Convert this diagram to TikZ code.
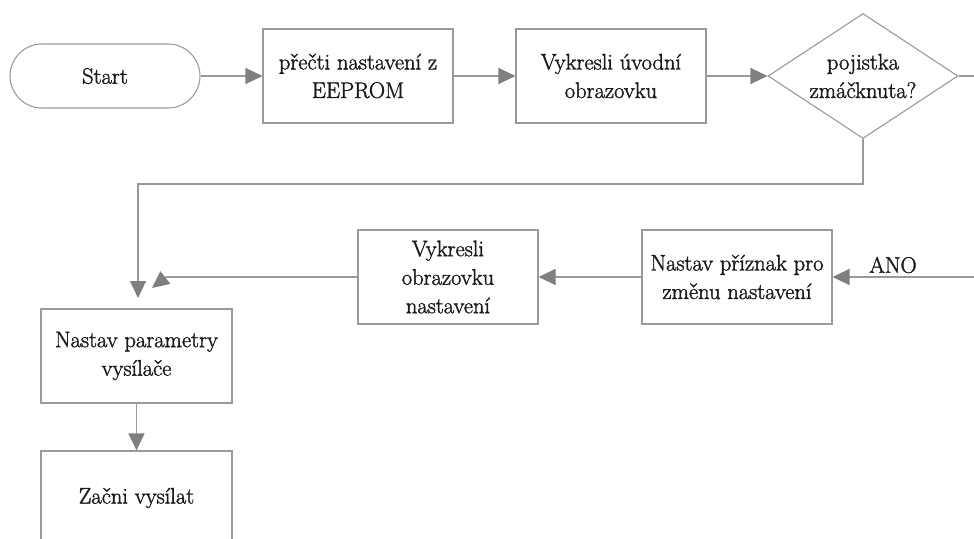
\documentclass[tikz,border=0pt]{standalone}
\usepackage{fontspec}
\setmainfont{lmroman17-regular}[Extension=.otf, FakeBold=1.6]
\usetikzlibrary{arrows.meta,shapes.geometric}
\definecolor{linegray}{HTML}{9A9A9A}
\definecolor{tipgray}{HTML}{7F7F7F}
\definecolor{inkgray}{HTML}{1A1A1A}
\tikzset{
  chartfont/.style={font=\rmfamily\fontsize{22.5}{28.5}\selectfont},
  base/.style={draw=linegray, line width=1.1pt, text=inkgray, chartfont, align=center, inner sep=0pt},
  procbox/.style={base, rectangle, minimum height=94pt},
  termbox/.style={base, rectangle, rounded corners=32pt, minimum width=190pt, minimum height=64pt},
  decbox/.style={base, diamond, minimum width=190pt, minimum height=125pt},
  lbl/.style={text=inkgray, chartfont, align=center, inner sep=0pt},
  link/.style={draw=linegray, line width=1.1pt},
  flow/.style={link, -{Triangle[length=17pt,width=16pt,color=tipgray]}},
}
\begin{document}
\begin{tikzpicture}[x=1pt, y=-1pt]
  \useasboundingbox (0,0) rectangle (974,538);
  \clip (0,0) rectangle (974,538);

  % main row
  \node[termbox] (start) at (105,76) {Start};
  \node[procbox, minimum width=190pt] (read) at (358,76) {přečti nastavení z\\EEPROM};
  \node[procbox, minimum width=190pt] (intro) at (611,76) {Vykresli úvodní\\obrazovku};
  \node[decbox] (fuse) at (863,76) {};
  \node[lbl] (fuselbl) at (fuse) {pojistka\\zmáčknuta?};

  % settings branch
  \node[procbox, minimum width=180pt] (setscr) at (448,277) {Vykresli\\obrazovku\\nastavení};
  \node[procbox, minimum width=190pt] (flag) at (737,277) {Nastav příznak pro\\změnu nastavení};
  \node[lbl] (ano) at (893,265) {ANO};

  % transmitter column
  \node[procbox, minimum width=191pt] (params) at (136.5,356) {Nastav parametry\\vysílače};
  \node[procbox, minimum width=191pt] (tx) at (136.5,498) {Začni vysílat};

  % free ends and bends
  \coordinate (fuseout) at (974,76);
  \coordinate (anoin) at (974,277);
  \coordinate (bend) at (138,184);
  \coordinate (join) at (138,298);
  \coordinate (kink) at (166,277);
  \coordinate (joinb) at (152,288);

  % connectors
  \draw[flow] (start.east) -- (read.west);
  \draw[flow] (read.east) -- (intro.west);
  \draw[flow] (intro.east) -- (fuse.west);
  \draw[link] (fuse.east) -- (fuseout);
  \draw[flow] (fuse.south) |- (bend) -- (join);
  \draw[flow] (anoin) -- (flag.east);
  \draw[flow] (flag.west) -- (setscr.east);
  \draw[link] (setscr.west) -- (kink);
  \draw[flow] (kink) -- (joinb);
  \draw[flow] (params.south) -- (tx.north);
\end{tikzpicture}
\end{document}
